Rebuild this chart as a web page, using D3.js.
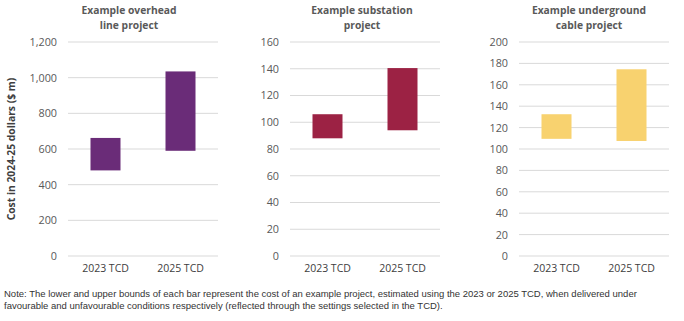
<!DOCTYPE html>
<html>
<head>
<meta charset="utf-8">
<script src="https://cdn.jsdelivr.net/npm/d3@7"></script>
<style>
body{margin:0;background:#fff}
svg{display:block}
</style>
</head>
<body>
<svg id="chart" width="684" height="321"></svg>
<script>
var categories=['2023 TCD','2025 TCD']
var overheadLow=[480,590]
var overheadHigh=[662,1035]
var substationLow=[88,94]
var substationHigh=[106,140.5]
var cableLow=[109.5,107.5]
var cableHigh=[132.5,174.5]
var overheadTicks=[0,200,400,600,800,1000,1200]
var substationTicks=[0,20,40,60,80,100,120,140,160]
var cableTicks=[0,20,40,60,80,100,120,140,160,180,200]

var panels=[
    {title:['Example overhead','line project'],low:overheadLow,high:overheadHigh,ticks:overheadTicks,color:'#6a2c78',x0:68,titleX:61},
    {title:['Example substation','project'],low:substationLow,high:substationHigh,ticks:substationTicks,color:'#9c2244',x0:290,titleX:72},
    {title:['Example underground','cable project'],low:cableLow,high:cableHigh,ticks:cableTicks,color:'#f8d26f',x0:519,titleX:70}
]
var svg=d3.select('#chart')
var plotW=150,plotTop=42,plotBottom=256
var font='"Open Sans", sans-serif'

panels.forEach(function(p){
    var g=svg.append('g').attr('transform','translate('+p.x0+',0)')
    var x=d3.scaleBand().domain(categories).range([0,plotW]).paddingInner(0.6).paddingOuter(0.3)
    var y=d3.scaleLinear().domain([0,d3.max(p.ticks)]).range([plotBottom,plotTop])
    // gridlines
    g.selectAll('line.grid').data(p.ticks).join('line')
        .attr('class','grid')
        .attr('x1',0).attr('x2',plotW)
        .attr('y1',d=>y(d)).attr('y2',d=>y(d))
        .attr('stroke','#d9d9d9').attr('stroke-width',1)
    var ya=d3.axisLeft(y).tickValues(p.ticks).tickSize(0).tickPadding(11).tickFormat(d3.format(','))
    var yg=g.append('g').call(ya)
    yg.select('.domain').remove()
    yg.selectAll('text').attr('font-family',font).attr('font-size',10.8).attr('fill','#595959')
    var xa=d3.axisBottom(x).tickSize(0).tickPadding(9)
    var xg=g.append('g').attr('transform','translate(0,'+plotBottom+')').call(xa)
    xg.select('.domain').remove()
    xg.selectAll('text').attr('font-family',font).attr('font-size',10.5).attr('fill','#404040')
    g.selectAll('rect').data(categories).join('rect')
        .attr('x',d=>x(d))
        .attr('width',x.bandwidth())
        .attr('y',(d,i)=>y(p.high[i]))
        .attr('height',(d,i)=>y(p.low[i])-y(p.high[i]))
        .attr('fill',p.color)
    g.append('text')
        .attr('text-anchor','middle')
        .attr('font-family',font).attr('font-size',10.3).attr('font-weight','bold').attr('fill','#595959')
        .selectAll('tspan').data(p.title).join('tspan')
        .attr('x',p.titleX)
        .attr('y',(d,i)=>14+i*15)
        .text(d=>d)
})

svg.append('text')
    .attr('transform','translate(15,149) rotate(-90)')
    .attr('text-anchor','middle')
    .attr('font-family',font).attr('font-size',10.3).attr('font-weight','bold').attr('fill','#404040')
    .text('Cost in 2024-25 dollars ($ m)')

var note=['Note: The lower and upper bounds of each bar represent the cost of an example project, estimated using the 2023 or 2025 TCD, when delivered under',
    'favourable and unfavourable conditions respectively (reflected through the settings selected in the TCD).']
svg.append('g').selectAll('text').data(note).join('text')
    .attr('x',4).attr('y',(d,i)=>297+i*12)
    .attr('font-family','"Liberation Sans", Arial, sans-serif').attr('font-size',9.5).attr('fill','#333')
    .text(d=>d)
</script>
</body>
</html>
